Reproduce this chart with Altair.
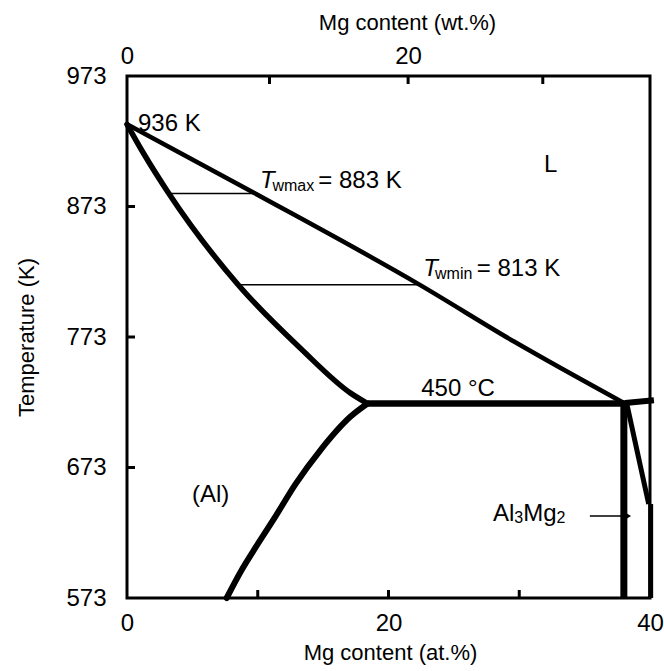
import altair as alt
import pandas as pd

# ---- phase-boundary data (Mg at.%, Temperature K) ----
liq_x = [0, 9.7, 22.3, 29.6, 37.9]
liq_t = [936, 883.5, 813.5, 769.5, 723]

sol_x = [0, 1.25, 3.2, 8.5, 13.3, 17.1, 18.4]
sol_t = [936, 914, 883, 813, 764, 730, 722]

solv_x = [18.4, 17.1, 14.8, 12.9, 11.2, 9.87, 8.77, 7.62]
solv_t = [722, 712, 686.4, 660.5, 633, 612.3, 594.5, 573]

eut_x = [18.4, 38.1]
eut_t = [722, 722]
eutr_x = [38.1, 40.3]
eutr_t = [722.5, 724.5]

b1_x = [38.0, 38.0]
b1_t = [723, 573]
b2_x = [38.2, 39.9]
b2_t = [723, 645]
b3_x = [40.05, 40.05]
b3_t = [645, 573]

tie1_x = [3.2, 9.7]
tie1_t = [883, 883]
tie2_x = [8.5, 22.3]
tie2_t = [813, 813]

arrow_x = [35.4, 38.3]
arrow_t = [635.8, 635.8]

curves = [
    ("liquidus", liq_x, liq_t, 4.5),
    ("solidus", sol_x, sol_t, 5.5),
    ("solvus", solv_x, solv_t, 6),
]
straights = [
    ("eutectic", eut_x, eut_t, 6.5),
    ("eutectic_r", eutr_x, eutr_t, 6),
    ("al3mg2_a", b1_x, b1_t, 7),
    ("al3mg2_b", b2_x, b2_t, 5),
    ("al3mg2_c", b3_x, b3_t, 5),
    ("tie883", tie1_x, tie1_t, 1.5),
    ("tie813", tie2_x, tie2_t, 1.5),
    ("arrow", arrow_x, arrow_t, 1.5),
]


def to_df(series):
    rows = []
    for name, xs, ts, w in series:
        for i, (x, t) in enumerate(zip(xs, ts)):
            rows.append({"s": name, "x": x, "T": t, "o": i, "w": w})
    return pd.DataFrame(rows)


# axis ticks
bottom_ticks = [10, 20, 30]
top_ticks_at = [10.9, 21.5, 31.8]   # wt.% 10, 20, 30 on the at.% scale
left_ticks = [673, 773, 873]

# annotations
main_text = ["936 K", "= 883 K", "= 813 K", "450 °C", "L", "(Al)", "Al", "Mg"]
main_x = [0.84, 14.63, 26.75, 22.5, 31.9, 4.97, 28.0, 30.30]
main_t = [931.1, 886.9, 819.7, 727.8, 899.4, 646.6, 632.2, 632.2]
ital_text = ["T", "T"]
ital_x = [10.17, 22.66]
ital_t = [886.9, 819.7]
sub_text = ["wmax", "wmin", "3", "2"]
sub_x = [11.12, 23.56, 29.62, 32.85]
sub_t = [885.1, 817.2, 630.2, 630.2]

FONT = "Liberation Sans"
W, H = 523, 522

xscale = alt.Scale(domain=[0, 40], nice=False, zero=False)
yscale = alt.Scale(domain=[573, 973], nice=False, zero=False)

x_axis = alt.Axis(values=[0, 20, 40], labelFontSize=24, labelFont=FONT, labelColor="black",
                  labelPadding=32, labelBaseline="alphabetic", ticks=False, tickSize=0, domain=False,
                  grid=False, labelFlush=False, labelOverlap=False,
                  title="Mg content (at.%)", titleFont=FONT, titleFontSize=22, titleFontWeight="normal",
                  titleColor="black", titleX=263, titleY=54, titleBaseline="middle", titleAlign="center")
y_axis = alt.Axis(values=[573, 673, 773, 873, 973], labelFontSize=24, labelFont=FONT, labelColor="black",
                  labelPadding=21, ticks=False, tickSize=0, domain=False, grid=False,
                  labelFlush=False, labelOverlap=False,
                  title="Temperature (K)", titleFont=FONT, titleFontSize=22, titleFontWeight="normal",
                  titleColor="black", titleX=-101, titleY=261, titleAngle=270,
                  titleBaseline="middle", titleAlign="center")
top_axis = alt.Axis(orient="top", values=[0, 21.5], labelExpr="datum.value == 0 ? '0' : '20'",
                    labelFontSize=24, labelFont=FONT, labelColor="black", labelPadding=13,
                    labelBaseline="alphabetic", ticks=False, tickSize=0, domain=False, grid=False,
                    labelFlush=False, labelOverlap=False,
                    title="Mg content (wt.%)", titleFont=FONT, titleFontSize=22, titleFontWeight="normal",
                    titleColor="black", titleX=280, titleY=-54, titleBaseline="middle", titleAlign="center")

Y = alt.Y("T:Q", scale=yscale, axis=y_axis)

curve_lines = alt.Chart(to_df(curves)).mark_line(
    color="black", strokeCap="round", strokeJoin="round", interpolate="monotone").encode(
    x=alt.X("x:Q", scale=xscale, axis=x_axis),
    y=Y,
    detail="s:N",
    order="o:Q",
    strokeWidth=alt.StrokeWidth("w:Q", scale=None),
)

straight_lines = alt.Chart(to_df(straights)).mark_line(
    color="black", strokeCap="butt", strokeJoin="miter").encode(
    x=alt.X("x:Q", scale=xscale, axis=None),
    y=Y,
    detail="s:N",
    order="o:Q",
    strokeWidth=alt.StrokeWidth("w:Q", scale=None),
)

arrow_head = alt.Chart(pd.DataFrame({"x": [arrow_x[-1]], "T": [arrow_t[-1]]})).mark_point(
    shape="triangle-right", filled=True, color="black", size=60, opacity=1).encode(
    x=alt.X("x:Q", scale=xscale, axis=None), y=Y)

bt = alt.Chart(pd.DataFrame({"x": bottom_ticks})).mark_rule(color="black", strokeWidth=3).encode(
    x=alt.X("x:Q", scale=xscale, axis=None), y=alt.value(H), y2=alt.value(H - 8))
tt = alt.Chart(pd.DataFrame({"x": top_ticks_at})).mark_rule(color="black", strokeWidth=3).encode(
    x=alt.X("x:Q", scale=xscale, axis=top_axis), y=alt.value(0), y2=alt.value(8))
lt = alt.Chart(pd.DataFrame({"T": left_ticks})).mark_rule(color="black", strokeWidth=3).encode(
    y=Y, x=alt.value(0), x2=alt.value(8))

frame = alt.Chart(pd.DataFrame({"k": [0]})).mark_rect(
    fill=None, stroke="black", strokeWidth=3).encode(
    x=alt.value(0), x2=alt.value(W), y=alt.value(0), y2=alt.value(H))


def text_layer(texts, xs, ts, size, style="normal"):
    df = pd.DataFrame({"txt": texts, "x": xs, "T": ts})
    return alt.Chart(df).mark_text(font=FONT, fontSize=size, fontStyle=style, align="left",
                                   baseline="alphabetic", color="black").encode(
        x=alt.X("x:Q", scale=xscale, axis=None), y=Y, text="txt:N")


t_main = text_layer(main_text, main_x, main_t, 24)
t_ital = text_layer(ital_text, ital_x, ital_t, 24, "italic")
t_sub = text_layer(sub_text, sub_x, sub_t, 16)

chart = alt.layer(frame, curve_lines, straight_lines, arrow_head, bt, lt, t_main, t_ital, t_sub, tt).resolve_axis(
    x="independent"
).properties(
    width=W, height=H,
    autosize=alt.AutoSizeParams(type="none"),
    padding={"left": 127, "top": 76, "right": 14, "bottom": 73},
).configure_view(stroke=None).configure(background="white")

chart.save("out.html", embed_options={"renderer": "svg", "actions": False})
